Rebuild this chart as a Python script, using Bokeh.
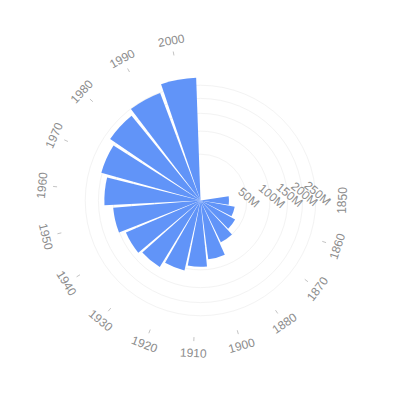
import numpy as np
from bokeh.plotting import figure
from bokeh.models import ColumnDataSource
from bokeh.core.properties import value
from bokeh.embed import file_html
from bokeh.resources import INLINE

# ---- data (millions) ----
years = ["1850", "1860", "1870", "1880", "1900", "1910", "1920", "1930",
         "1940", "1950", "1960", "1970", "1980", "1990", "2000"]
population = [23.19, 31.44, 38.56, 50.19, 76.21, 92.23, 106.02, 123.20,
              132.16, 151.33, 179.32, 203.30, 226.54, 248.71, 281.42]
radial_ticks = [50, 100, 150, 200, 250]
radial_tick_labels = ["50M", "100M", "150M", "200M", "250M"]

# ---- layout ----
BAR_COLOR = "#6194F8"
TEXT_COLOR = "#8c8c8c"
FONT = value("Liberation Sans")
R_OFF, R_K = -9.5, 7.89          # radial sqrt scale: r = R_OFF + R_K*sqrt(v)
TH_START, TH_END = 80.73, 358.9  # band range, degrees clockwise from 12 o'clock
PAD = 0.1


def rscale(v):
    return R_OFF + R_K * np.sqrt(np.asarray(v, dtype=float))


n = len(years)
step = (TH_END - TH_START) / n
centers = TH_START + step * (np.arange(n) + 0.5)
half = step * (1 - PAD) / 2


def to_bokeh(theta_deg):
    return np.radians(90.0 - np.asarray(theta_deg))


p = figure(width=400, height=400, x_range=(-200, 200), y_range=(-200, 200),
           output_backend="svg", toolbar_location=None, min_border=0,
           x_axis_type=None, y_axis_type=None)
p.grid.visible = False
p.outline_line_color = None
p.background_fill_color = "white"

# grid circles
gr = rscale(radial_ticks)
p.circle(x=[0] * len(gr), y=[0] * len(gr), radius=list(gr), fill_color=None,
         line_color="#f3f3f3", line_width=1)

# bars
bars = ColumnDataSource(dict(
    r=list(rscale(population)),
    sa=list(to_bokeh(centers + half)),
    ea=list(to_bokeh(centers - half)),
))
p.wedge(x=0, y=0, radius="r", start_angle="sa", end_angle="ea",
        direction="anticlock", source=bars, fill_color=BAR_COLOR, line_color=None)

# angular axis ticks and labels (spiral placement)
idx = np.arange(n)
rt = 128 + 2.49 * idx - 0.0684 * idx ** 2
ang = to_bokeh(centers)
tx0 = (rt - 2) * np.cos(ang)
ty0 = (rt - 2) * np.sin(ang)
tx1 = (rt + 2) * np.cos(ang)
ty1 = (rt + 2) * np.sin(ang)
p.segment(x0=list(tx0), y0=list(ty0), x1=list(tx1), y1=list(ty1),
          line_color="#c4c4c4", line_width=1)

rl = rt + 13.5
rot_cw = ((centers + 90) % 180) - 90
lab = ColumnDataSource(dict(
    x=list(rl * np.cos(ang)), y=list(rl * np.sin(ang)),
    t=years, a=list(np.radians(-rot_cw)),
))
p.text(x="x", y="y", text="t", angle="a", source=lab, text_align="center",
       text_baseline="middle", text_font=FONT, text_font_size="12px",
       text_color=TEXT_COLOR)

# radial axis labels
rray = np.radians(3.5)
rlab = ColumnDataSource(dict(
    x=list((gr + 2) * np.cos(rray)), y=list((gr + 2) * np.sin(rray)),
    t=radial_tick_labels,
))
p.text(x="x", y="y", text="t", angle=np.radians(-40), source=rlab,
       text_align="center", text_baseline="middle", text_font=FONT,
       text_font_size="12px", text_color=TEXT_COLOR)

open("out.html", "w").write(file_html(p, INLINE))
